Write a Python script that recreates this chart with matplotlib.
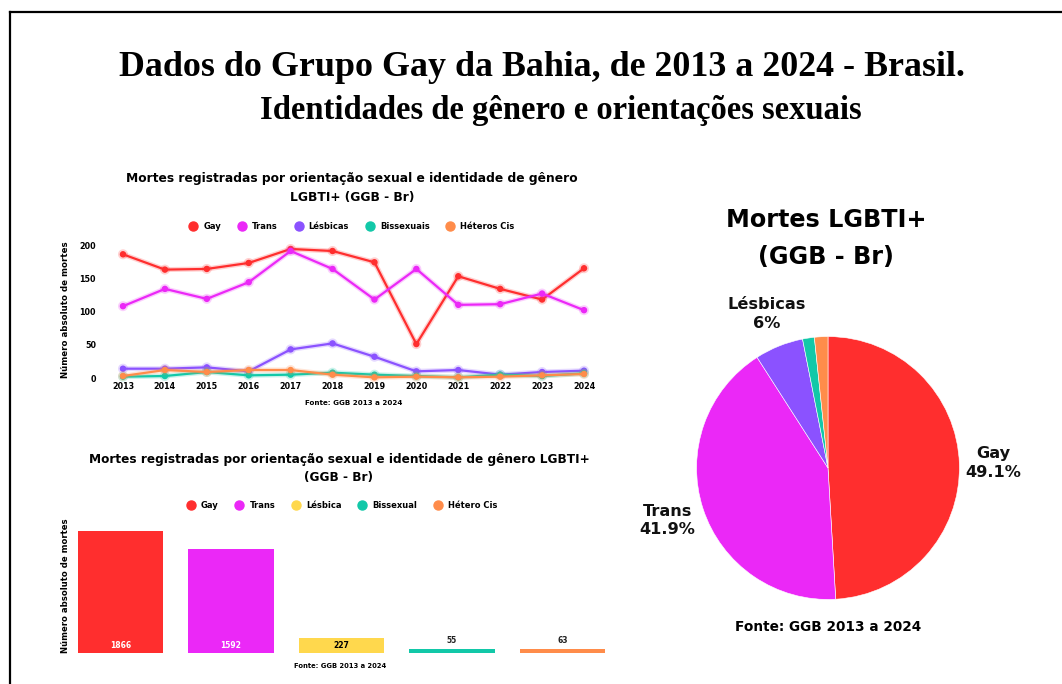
import matplotlib
matplotlib.use("Agg")
import matplotlib.pyplot as plt
import matplotlib.patheffects as pe
from matplotlib.lines import Line2D

plt.rcParams['font.family'] = ['DejaVu Sans']

# ---------------- data ----------------
years = [2013, 2014, 2015, 2016, 2017, 2018, 2019, 2020, 2021, 2022, 2023, 2024]
line_names = ["Gay", "Trans", "Lésbicas", "Bissexuais", "Héteros Cis"]
gay = [186, 163, 164, 173, 194, 191, 174, 51, 153, 134, 118, 165]
trans = [108, 134, 119, 144, 191, 164, 118, 164, 110, 111, 127, 102]
lesbicas = [14, 14, 16, 10, 43, 52, 32, 10, 12, 5, 9, 11]
bissexuais = [2, 3, 9, 4, 5, 8, 5, 3, 1, 5, 3, 7]
heteros = [3, 12, 9, 12, 12, 5, 1, 2, 1, 2, 4, 6]

bar_names = ["Gay", "Trans", "Lésbica", "Bissexual", "Hétero Cis"]
bar_values = [1866, 1592, 227, 55, 63]

pie_names = ["Gay", "Trans", "Lésbicas", "Bissexuais", "Héteros Cis"]
pie_values = [1866, 1592, 227, 55, 63]

line_colors = ["#FF2E2E", "#EB28F7", "#8B52FF", "#12C8A8", "#FF8C4A"]
bar_colors = ["#FF2E2E", "#EB28F7", "#FFD84D", "#12C8A8", "#FF8C4A"]

# ---------------- figure ----------------
W, H = 1062, 684
fig = plt.figure(figsize=(W / 100, H / 100), dpi=100)
fig.patch.set_facecolor("white")


def rect(x0, y0, x1, y1):
    return [x0 / W, 1 - y1 / H, (x1 - x0) / W, (y1 - y0) / H]


def T(x, y, s, **kw):
    kw.setdefault("ha", "center")
    kw.setdefault("va", "center")
    kw.setdefault("fontweight", "bold")
    return fig.text(x / W, 1 - y / H, s, **kw)


# border (left and top)
fig.add_artist(Line2D([10 / W, 10 / W], [0, 1 - 12 / H], color="black", lw=1.6,
                      transform=fig.transFigure))
fig.add_artist(Line2D([10 / W, 1], [1 - 12 / H, 1 - 12 / H], color="black", lw=1.6,
                      transform=fig.transFigure))

# main titles
T(542, 67, "Dados do Grupo Gay da Bahia, de 2013 a 2024 - Brasil.",
  family="Liberation Serif", fontsize=25.8)
T(561, 111, "Identidades de gênero e orientações sexuais",
  family="Liberation Serif", fontsize=23.5)

# ---------------- line chart ----------------
ax1 = fig.add_axes(rect(110, 245, 597, 378))
series = [gay, trans, lesbicas, bissexuais, heteros]
for vals, c, n in zip(series, line_colors, line_names):
    ax1.plot(years, vals, color=c, lw=1.6, marker="o", markersize=3.6,
             clip_on=False, label=n, solid_joinstyle="round",
             path_effects=[pe.Stroke(linewidth=3.6, foreground=c, alpha=0.22), pe.Normal()])
ax1.set_xlim(2012.69, 2024.31)
ax1.set_ylim(0, 200)
ax1.set_xticks(years)
ax1.set_yticks([0, 50, 100, 150, 200])
ax1.tick_params(length=0, labelsize=5.8, pad=3)
ax1.tick_params(axis="y", pad=10)
for lab in ax1.get_xticklabels() + ax1.get_yticklabels():
    lab.set_fontweight("bold")
for s in ax1.spines.values():
    s.set_visible(False)
ax1.set_facecolor("none")

T(352, 178, "Mortes registradas por orientação sexual e identidade de gênero", fontsize=8.8)
T(352, 197, "LGBTI+ (GGB - Br)", fontsize=8.8)
T(66, 310, "Número absoluto de mortes", rotation=90, fontsize=6.2)
T(354, 403, "Fonte: GGB 2013 a 2024", fontsize=5.1)

h1 = [Line2D([], [], marker="o", linestyle="", color=c, markersize=6.5) for c in line_colors]
fig.legend(h1, line_names, loc="center", bbox_to_anchor=(352 / W, 1 - 226 / H),
           ncol=5, frameon=False, prop={"size": 6.0, "weight": "bold"},
           handletextpad=0.7, columnspacing=2.0, handlelength=1.0)

# ---------------- bar chart ----------------
ax2 = fig.add_axes(rect(65.25, 522, 617.75, 653))
xs = list(range(len(bar_values)))
ax2.bar(xs, bar_values, width=0.77, color=bar_colors)
ax2.set_xlim(-0.5, 4.5)
ax2.set_ylim(0, 2000)
ax2.set_xticks([])
ax2.set_yticks([])
for s in ax2.spines.values():
    s.set_visible(False)
ax2.set_facecolor("none")
for i, v in enumerate(bar_values):
    if v > 1000:
        ax2.annotate(str(v), (i, 0), xytext=(0, 5.3), textcoords="offset points",
                     ha="center", va="center", fontsize=5.5, fontweight="bold", color="white")
    elif v > 150:
        ax2.annotate(str(v), (i, 0), xytext=(0, 5.3), textcoords="offset points",
                     ha="center", va="center", fontsize=5.5, fontweight="bold", color="black")
    else:
        ax2.annotate(str(v), (i, v), xytext=(0, 6.2), textcoords="offset points",
                     ha="center", va="center", fontsize=5.5, fontweight="bold", color="#222222")

T(339, 460, "Mortes registradas por orientação sexual e identidade de gênero LGBTI+", fontsize=8.7)
T(339, 478, "(GGB - Br)", fontsize=8.7)
T(66, 586, "Número absoluto de mortes", rotation=90, fontsize=6.1)
T(340, 666, "Fonte: GGB 2013 a 2024", fontsize=4.9)

h2 = [Line2D([], [], marker="o", linestyle="", color=c, markersize=6.5) for c in bar_colors]
fig.legend(h2, bar_names, loc="center", bbox_to_anchor=(342 / W, 1 - 505 / H),
           ncol=5, frameon=False, prop={"size": 6.0, "weight": "bold"},
           handletextpad=0.7, columnspacing=2.0, handlelength=1.0)

# ---------------- pie chart ----------------
ax3 = fig.add_axes(rect(690, 330, 966, 606))
ax3.pie(pie_values, colors=line_colors, startangle=90, counterclock=False,
        wedgeprops={"linewidth": 0.4, "edgecolor": "white"})
ax3.set_xlim(-1.05, 1.05)
ax3.set_ylim(-1.05, 1.05)
ax3.set_aspect("equal")

total = sum(pie_values)


def pct(v):
    p = f"{100 * v / total:.1f}"
    if p.endswith(".0"):
        p = p[:-2]
    return p + "%"


label_pos = {0: (1.255, 0.04), 1: (-1.22, -0.40), 2: (-0.47, 1.17)}
for i, (x, y) in label_pos.items():
    ax3.text(x, y, f"{pie_names[i]}\n{pct(pie_values[i])}", ha="center", va="center",
             fontsize=11.6, fontweight="bold", linespacing=1.3, color="#111111")

T(826, 220, "Mortes LGBTI+", fontsize=17.2)
T(826, 257, "(GGB - Br)", fontsize=17.2)
T(828, 627, "Fonte: GGB 2013 a 2024", fontsize=9.8)

fig.savefig("out.png", dpi=100)
